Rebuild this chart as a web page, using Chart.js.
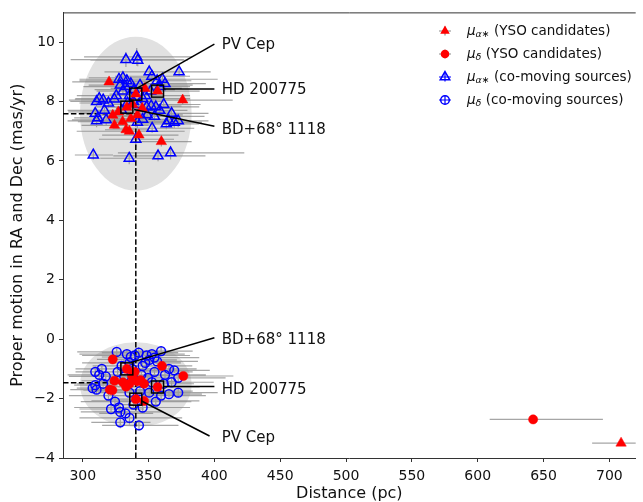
<!DOCTYPE html>
<html>
<head>
<meta charset="utf-8">
<script src="https://cdn.jsdelivr.net/npm/chart.js@4.4.1/dist/chart.umd.min.js"></script>
<style>
  html, body { margin: 0; padding: 0; background: #fff; overflow: hidden; }
  #wrap { width: 643px; height: 502px; }
</style>
</head>
<body>
<div id="wrap"><canvas id="pmChart" width="643" height="502"></canvas></div>
<script>
// Proper motions vs distance, YSO candidates and co-moving sources
const xTicks = [300, 350, 400, 450, 500, 550, 600, 650, 700];
const yTicks = [-4, -2, 0, 2, 4, 6, 8, 10];

// YSO candidates, mu_alpha*
const ysoRaDist = [320, 333.5, 340.3, 356.8, 347.2, 345.2, 375.9, 322.8, 324.1, 330.3,
    332.9, 335.4, 336.5, 342.7, 359.7, 338, 341.5, 327, 708.9];
const ysoRa = [8.66, 7.81, 8.25, 8.35, 8.44, 7.77, 8.05, 7.54, 7.2, 7.32,
    7.05, 7.0, 7.43, 6.87, 6.65, 7.9, 7.55, 7.65, -3.5];
const ysoRaDistErr = [[28,29],[18,19],[20,21],[30,32],[26,28],[20,21],[36,38],[12,13],[25,26],[34,36],
    [16,17],[40,42],[14,15],[28,30],[22,23],[18,19],[30,31],[38,40],[22,40]];
const ysoRaErr = [0.12, 0.1, 0.08, 0.1, 0.12, 0.14, 0.16, 0.12, 0.1, 0.14,
    0.12, 0.1, 0.12, 0.14, 0.16, 0.1, 0.12, 0.14, 0.1];

// YSO candidates, mu_delta
const ysoDecDist = [322.8, 333.5, 340.3, 356.8, 360.2, 376.4, 324.1, 320.5, 322.5, 332.9,
    341.4, 343.9, 346.5, 346.6, 337.5, 339.5, 330.5, 335.5, 642.1];
const ysoDec = [-0.68, -1.0, -2.02, -1.61, -0.9, -1.24, -1.4, -1.7, -1.72, -1.6,
    -1.42, -1.38, -1.5, -2.08, -1.25, -1.1, -1.45, -1.5, -2.7];
const ysoDecDistErr = [[12,13],[18,19],[20,21],[30,32],[22,23],[36,38],[25,26],[30,32],[22,24],[16,17],
    [28,30],[14,15],[26,28],[40,42],[18,19],[30,31],[20,21],[20,21],[33,53]];
const ysoDecErr = [0.1, 0.08, 0.1, 0.1, 0.12, 0.14, 0.1, 0.12, 0.1, 0.12,
    0.1, 0.12, 0.14, 0.12, 0.1, 0.1, 0.12, 0.1, 0.13];

// co-moving sources, mu_alpha*
const comRaDist = [308, 335.3, 357.2, 366.7, 332.8, 341, 341.8, 373.2, 327.5, 330.5,
    333.5, 336.5, 328.5, 332.5, 330.5, 350.5, 352.5, 356.5, 360.5, 362.5,
    358.5, 312.5, 315.5, 310.5, 324, 361.5, 348.5, 352, 355.5, 342.5,
    345.5, 338.5, 309.5, 310.5, 311.5, 317.8, 352.7, 363.5, 365.5, 369.5,
    372.5, 340.3, 335.5, 347.5, 351.5, 343.5, 325.5, 319.5, 354.5, 358.5,
    367.5, 329.5, 341.5, 345.5, 316.5, 339, 334, 349];
const comRa = [6.2, 6.09, 6.17, 6.27, 9.41, 9.5, 9.39, 9.0, 8.75, 8.8,
    8.7, 8.6, 8.55, 8.5, 8.35, 9.0, 8.85, 8.7, 8.75, 8.6,
    8.5, 8.1, 8.05, 8.0, 8.08, 7.9, 7.82, 7.85, 7.82, 7.9,
    8.1, 8.0, 7.6, 7.35, 7.45, 7.38, 7.1, 7.25, 7.35, 7.3,
    7.35, 6.73, 8.2, 8.2, 8.35, 8.55, 8.2, 7.95, 7.5, 7.7,
    7.6, 7.7, 7.3, 7.4, 7.7, 8.4, 7.95, 7.55];
const comRaDistErr = [[14,15],[22,23],[34,36],[40,56],[42,44],[40,42],[36,38],[22,24],[30,32],[26,27],
    [36,38],[18,19],[24,25],[32,34],[20,21],[34,36],[28,29],[24,26],[40,42],[30,31],
    [22,23],[18,19],[26,27],[20,21],[30,32],[26,28],[38,40],[22,23],[30,31],[16,17],
    [34,36],[20,21],[12,13],[22,23],[18,19],[26,27],[30,32],[24,25],[28,30],[20,21],
    [16,17],[28,29],[24,25],[32,34],[26,27],[38,40],[30,32],[22,23],[36,38],[20,21],
    [26,28],[34,36],[18,19],[24,25],[28,29],[30,31],[20,21],[26,27]];
const comRaErr = [0.15, 0.2, 0.18, 0.22, 0.25, 0.3, 0.2, 0.15, 0.12, 0.18,
    0.2, 0.14, 0.16, 0.22, 0.12, 0.18, 0.2, 0.15, 0.24, 0.16,
    0.12, 0.2, 0.15, 0.18, 0.1, 0.14, 0.12, 0.16, 0.2, 0.1,
    0.14, 0.12, 0.18, 0.22, 0.16, 0.2, 0.15, 0.18, 0.14, 0.2,
    0.22, 0.25, 0.1, 0.12, 0.14, 0.16, 0.12, 0.18, 0.16, 0.14,
    0.18, 0.12, 0.2, 0.15, 0.16, 0.1, 0.12, 0.14];

// co-moving sources, mu_delta
const comDecDist = [325.8, 333.5, 336.5, 339.5, 342.5, 352.5, 354.5, 350.5, 347.5, 345.5,
    356.5, 359.5, 309.5, 312.5, 314.5, 317.5, 307.5, 310.5, 309.5, 324.5,
    327.5, 321.5, 328.5, 332.5, 335.5, 342.7, 328.5, 350.5, 359.5, 365.5,
    372.5, 365.5, 369.5, 372.5, 362.5, 329.5, 335.5, 337.5, 344.5, 349.5,
    354.5, 326.5, 331.5, 352.5, 361.5, 367.5, 338.5, 345.5, 355.5, 315.5,
    319.5, 335.5, 343.5, 348.5];
const comDec = [-0.43, -0.5, -0.6, -0.55, -0.45, -0.5, -0.62, -0.7, -0.8, -0.9,
    -0.75, -0.4, -1.1, -1.2, -1.0, -1.25, -1.65, -1.7, -1.55, -2.1,
    -2.3, -2.35, -2.45, -2.5, -2.65, -2.9, -2.8, -1.8, -1.9, -1.85,
    -1.8, -1.0, -1.05, -1.3, -1.2, -0.9, -0.8, -1.0, -1.2, -1.3,
    -1.1, -1.1, -1.25, -1.45, -1.5, -1.45, -2.2, -2.3, -2.1, -1.5,
    -1.9, -1.8, -1.75, -0.55];
const comDecDistErr = [[30,32],[36,38],[22,23],[40,42],[28,30],[24,25],[32,34],[20,21],[26,27],[18,19],
    [30,31],[22,24],[14,15],[24,25],[20,21],[28,29],[12,13],[18,19],[16,17],[26,27],
    [34,36],[24,25],[30,32],[20,21],[38,40],[28,30],[22,23],[26,28],[32,34],[24,25],
    [28,30],[20,21],[26,27],[34,36],[30,31],[22,23],[36,38],[18,19],[24,26],[30,32],
    [28,29],[32,34],[20,21],[26,27],[22,23],[30,32],[18,19],[34,36],[26,27],[20,21],
    [30,31],[24,25],[38,40],[22,23]];
const comDecErr = [0.12, 0.15, 0.1, 0.14, 0.18, 0.12, 0.1, 0.16, 0.14, 0.12,
    0.1, 0.15, 0.12, 0.14, 0.1, 0.16, 0.12, 0.14, 0.1, 0.18,
    0.16, 0.14, 0.2, 0.15, 0.22, 0.18, 0.2, 0.12, 0.14, 0.1,
    0.16, 0.12, 0.1, 0.14, 0.12, 0.1, 0.12, 0.14, 0.1, 0.12,
    0.14, 0.12, 0.1, 0.12, 0.14, 0.16, 0.15, 0.18, 0.12, 0.1,
    0.14, 0.12, 0.1, 0.14];

// cluster means and spread (ellipses, dashed guides)
const meanDist = 340.3;
const meanRa = 7.59;
const meanDec = -1.47;
const ellipseCenterDec = -1.53;
const ellipseDistRadius = 42.4;
const ellipseRaRadius = 2.59;
const ellipseDecRadius = 1.43;

// named stars
const starNames = ['PV Cep', 'HD 200775', 'BD+68° 1118'];
const starDist = [340.3, 356.8, 333.5];
const starRa = [8.25, 8.35, 7.81];
const starDec = [-2.02, -1.61, -1.0];
const labelDist = 405.6;
const labelRa = [9.9, 8.38, 7.04];
const labelDec = [-3.32, -1.71, -0.03];
// leader lines: start near the star box, end near the label
const leadRaStart = [[341, 8.44], [361.5, 8.42], [339, 7.73]];
const leadRaEnd = [[400, 9.93], [400, 8.42], [400, 7.17]];
const leadDecStart = [[344.7, -2.08], [361.5, -1.59], [336.8, -0.78]];
const leadDecEnd = [[396.3, -3.26], [400, -1.59], [400, 0.05]];

const legendSymbols = [['μ', 'α∗'], ['μ', 'δ'], ['μ', 'α∗'], ['μ', 'δ']];
const legendTexts = ['(YSO candidates)', '(YSO candidates)', '(co-moving sources)', '(co-moving sources)'];

const FONT = "'DejaVu Sans', sans-serif";

function pts(xs, ys) {
    return xs.map((x, i) => ({ x: x, y: ys[i] }));
}

function lineSet(a, b, dashed, order) {
    return {
        type: 'scatter',
        data: [{ x: a[0], y: a[1] }, { x: b[0], y: b[1] }],
        showLine: true,
        borderColor: '#000',
        borderWidth: 1.5,
        borderDash: dashed ? [5.5, 2.4] : [],
        pointRadius: 0,
        fill: false,
        order: order
    };
}

function drawErrors(ctx, sx, sy, xs, ys, dErr, pErr) {
    for (let i = 0; i < xs.length; i++) {
        const px = sx.getPixelForValue(xs[i]);
        const py = sy.getPixelForValue(ys[i]);
        ctx.moveTo(sx.getPixelForValue(xs[i] - dErr[i][0]), py);
        ctx.lineTo(sx.getPixelForValue(xs[i] + dErr[i][1]), py);
        ctx.moveTo(px, sy.getPixelForValue(ys[i] - pErr[i]));
        ctx.lineTo(px, sy.getPixelForValue(ys[i] + pErr[i]));
    }
}

function triPath(ctx, x, y, r) {
    let rad = 0;
    ctx.beginPath();
    ctx.moveTo(x + Math.sin(rad) * r, y - Math.cos(rad) * r);
    rad += 2 * Math.PI / 3;
    ctx.lineTo(x + Math.sin(rad) * r, y - Math.cos(rad) * r);
    rad += 2 * Math.PI / 3;
    ctx.lineTo(x + Math.sin(rad) * r, y - Math.cos(rad) * r);
    ctx.closePath();
}

const backdrop = {
    id: 'backdrop',
    beforeDatasetsDraw(chart) {
        const { ctx, chartArea: a, scales: { x: sx, y: sy } } = chart;
        ctx.save();
        ctx.beginPath();
        ctx.rect(a.left, a.top, a.right - a.left, a.bottom - a.top);
        ctx.clip();
        // cluster ellipses
        ctx.fillStyle = '#e1e1e1';
        const cx = sx.getPixelForValue(meanDist);
        const rx = sx.getPixelForValue(meanDist + ellipseDistRadius) - cx;
        [[meanRa, ellipseRaRadius], [ellipseCenterDec, ellipseDecRadius]].forEach(([c, r]) => {
            const cy = sy.getPixelForValue(c);
            const ry = cy - sy.getPixelForValue(c + r);
            ctx.beginPath();
            ctx.ellipse(cx, cy, rx, ry, 0, 0, 2 * Math.PI);
            ctx.fill();
        });
        // error bars
        ctx.strokeStyle = 'rgba(128,128,128,0.7)';
        ctx.lineWidth = 1.2;
        ctx.beginPath();
        drawErrors(ctx, sx, sy, comRaDist, comRa, comRaDistErr, comRaErr);
        drawErrors(ctx, sx, sy, comDecDist, comDec, comDecDistErr, comDecErr);
        drawErrors(ctx, sx, sy, ysoRaDist, ysoRa, ysoRaDistErr, ysoRaErr);
        drawErrors(ctx, sx, sy, ysoDecDist, ysoDec, ysoDecDistErr, ysoDecErr);
        ctx.stroke();
        ctx.restore();
    },
    afterDatasetsDraw(chart) {
        const { ctx, scales: { x: sx, y: sy } } = chart;
        ctx.save();
        // boxes around the named stars
        ctx.strokeStyle = '#000';
        ctx.lineWidth = 1.5;
        for (let i = 0; i < starNames.length; i++) {
            const px = sx.getPixelForValue(starDist[i]);
            [starRa[i], starDec[i]].forEach(v => {
                const py = sy.getPixelForValue(v);
                ctx.strokeRect(px - 6, py - 6, 12, 12);
            });
        }
        // star labels
        ctx.fillStyle = '#111';
        ctx.font = '15px ' + FONT;
        ctx.textBaseline = 'middle';
        ctx.textAlign = 'left';
        const lx = sx.getPixelForValue(labelDist);
        for (let i = 0; i < starNames.length; i++) {
            ctx.fillText(starNames[i], lx, sy.getPixelForValue(labelRa[i]));
            ctx.fillText(starNames[i], lx, sy.getPixelForValue(labelDec[i]));
        }
        ctx.restore();
    },
    afterDraw(chart) {
        const { ctx, chartArea: a } = chart;
        ctx.save();
        // top spine
        ctx.strokeStyle = '#333';
        ctx.lineWidth = 1;
        ctx.beginPath();
        ctx.moveTo(a.left, a.top + 0.5);
        ctx.lineTo(a.right, a.top + 0.5);
        ctx.stroke();
        // legend
        const mx = 445, tx = 467;
        const rows = [31, 54, 77, 100];
        for (let i = 0; i < 4; i++) {
            const y = rows[i];
            const red = i < 2;
            const tri = i % 2 === 0;
            ctx.strokeStyle = red ? 'rgba(128,128,128,0.9)' : '#0000ff';
            ctx.lineWidth = 1.2;
            ctx.beginPath();
            ctx.moveTo(mx - 6, y); ctx.lineTo(mx + 6, y);
            ctx.moveTo(mx, y - 4.5); ctx.lineTo(mx, y + 4.5);
            ctx.stroke();
            if (tri) triPath(ctx, mx, y, 5.5);
            else { ctx.beginPath(); ctx.arc(mx, y, 4.3, 0, 2 * Math.PI); }
            if (red) { ctx.fillStyle = '#ff0000'; ctx.fill(); }
            else { ctx.strokeStyle = '#0000ff'; ctx.lineWidth = 1.5; ctx.stroke(); }
            // text with subscript
            ctx.fillStyle = '#111';
            ctx.textBaseline = 'middle';
            ctx.textAlign = 'left';
            let x = tx;
            ctx.font = 'italic 13.5px ' + FONT;
            ctx.fillText(legendSymbols[i][0], x, y);
            x += ctx.measureText(legendSymbols[i][0]).width;
            ctx.font = 'italic 9.5px ' + FONT;
            ctx.fillText(legendSymbols[i][1], x, y + 3.5);
            x += ctx.measureText(legendSymbols[i][1]).width;
            ctx.font = '13.5px ' + FONT;
            ctx.fillText(' ' + legendTexts[i], x, y);
        }
        ctx.restore();
    }
};

function tickLabel(v) {
    return String(v).replace('-', '\u2212');
}

const ctx = document.getElementById('pmChart').getContext('2d');
const chart = new Chart(ctx, {
    type: 'scatter',
    data: {
        datasets: [
            // dashed guides at the cluster means
            lineSet([meanDist, -4], [meanDist, meanRa], true, 20),
            lineSet([285, meanRa], [meanDist, meanRa], true, 20),
            lineSet([285, meanDec], [meanDist, meanDec], true, 20),
            {
                label: 'co-moving mu_alpha',
                data: pts(comRaDist, comRa),
                pointStyle: 'triangle',
                pointRadius: 5.8,
                backgroundColor: 'rgba(0,0,0,0)',
                borderColor: '#0000ff',
                borderWidth: 1.5,
                order: 10
            },
            {
                label: 'co-moving mu_delta',
                data: pts(comDecDist, comDec),
                pointStyle: 'circle',
                pointRadius: 4.4,
                backgroundColor: 'rgba(0,0,0,0)',
                borderColor: '#0000ff',
                borderWidth: 1.5,
                order: 10
            },
            {
                label: 'YSO mu_alpha',
                data: pts(ysoRaDist, ysoRa),
                pointStyle: 'triangle',
                pointRadius: 6,
                backgroundColor: '#ff0000',
                borderColor: '#ff0000',
                borderWidth: 0.5,
                order: 5
            },
            {
                label: 'YSO mu_delta',
                data: pts(ysoDecDist, ysoDec),
                pointStyle: 'circle',
                pointRadius: 4.6,
                backgroundColor: '#ff0000',
                borderColor: '#ff0000',
                borderWidth: 0.5,
                order: 5
            },
            // leader lines to the labels
            ...leadRaStart.map((s, i) => lineSet(s, leadRaEnd[i], false, 1)),
            ...leadDecStart.map((s, i) => lineSet(s, leadDecEnd[i], false, 1))
        ]
    },
    options: {
        responsive: false,
        animation: false,
        devicePixelRatio: 1,
        layout: { padding: { top: 12, right: 0, bottom: 0, left: 0 } },
        plugins: {
            legend: { display: false },
            tooltip: { enabled: false }
        },
        scales: {
            x: {
                type: 'linear',
                min: 285,
                max: 720,
                afterFit: s => { s.height = 44; },
                afterBuildTicks: s => { s.ticks = xTicks.map(v => ({ value: v })); },
                grid: { drawOnChartArea: false, drawTicks: true, tickLength: 4, color: '#333' },
                border: { color: '#333', width: 1 },
                ticks: {
                    color: '#111',
                    padding: 6,
                    maxRotation: 0,
                    font: { family: FONT, size: 14 },
                    callback: v => tickLabel(v)
                },
                title: {
                    display: true,
                    text: 'Distance (pc)',
                    color: '#111',
                    font: { family: FONT, size: 16, lineHeight: 1.05 },
                    padding: { top: 0, bottom: 0 }
                }
            },
            y: {
                type: 'linear',
                min: -4,
                max: 11,
                afterFit: s => { s.width = 63; },
                afterBuildTicks: s => { s.ticks = yTicks.map(v => ({ value: v })); },
                grid: { drawOnChartArea: false, drawTicks: true, tickLength: 4, color: '#333' },
                border: { color: '#333', width: 1 },
                ticks: {
                    color: '#111',
                    padding: 4,
                    font: { family: FONT, size: 14 },
                    callback: v => tickLabel(v)
                },
                title: {
                    display: true,
                    text: 'Proper motion in RA and Dec (mas/yr)',
                    color: '#111',
                    font: { family: FONT, size: 16 },
                    padding: { top: 8, bottom: 0 }
                }
            }
        }
    },
    plugins: [backdrop]
});
</script>
</body>
</html>
